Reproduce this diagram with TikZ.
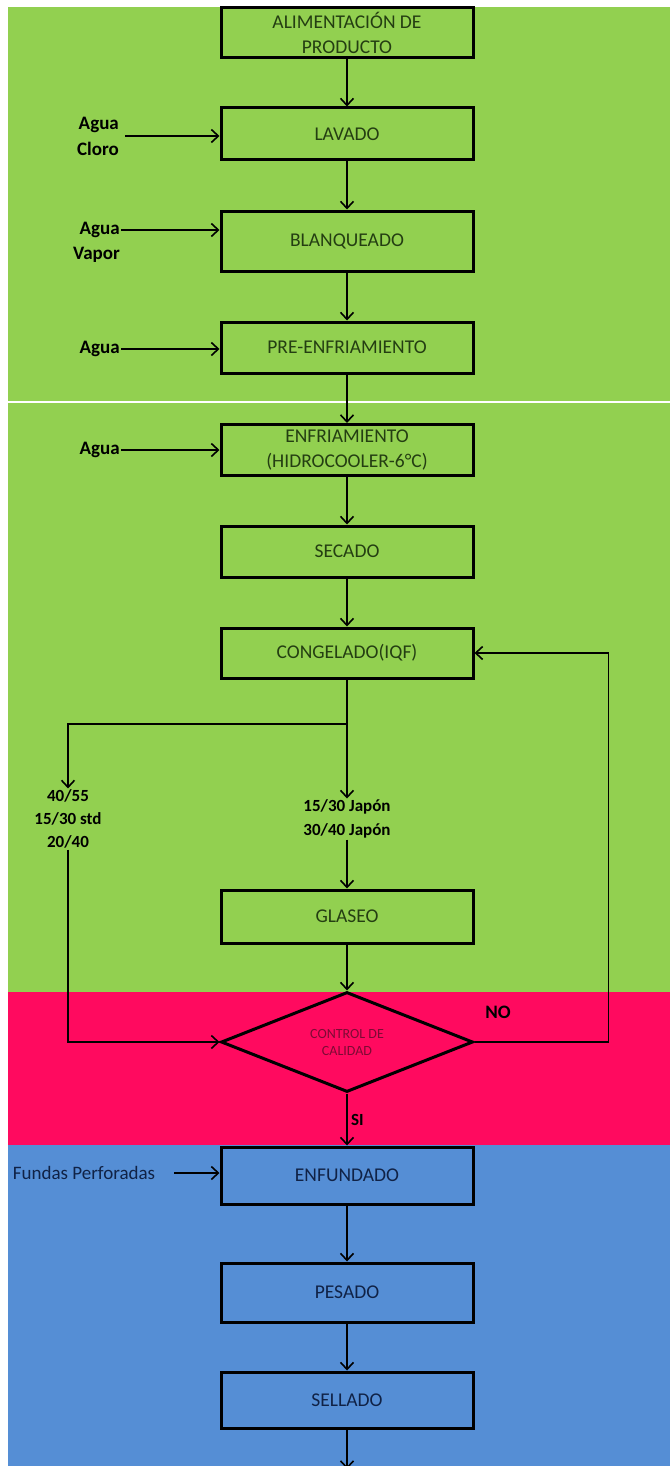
\documentclass[tikz,border=0pt]{standalone}
\usepackage{fontspec}
\setmainfont{Carlito}
\usetikzlibrary{arrows.meta,shapes.geometric}
\definecolor{verde}{RGB}{146,208,80}
\definecolor{rojo}{RGB}{255,10,95}
\definecolor{azul}{RGB}{85,142,213}
\definecolor{verdeosc}{RGB}{36,62,18}
\definecolor{azulosc}{RGB}{16,34,70}
\definecolor{rojoosc}{RGB}{125,10,52}
\begin{document}
\begin{tikzpicture}[x=1pt, y=-1pt,
    proceso/.style={draw, line width=3pt, minimum width=252pt, minimum height=52pt,
        inner sep=2pt, align=center, font=\fontsize{19.5}{25}\selectfont},
    flecha/.style={-{Straight Barb[length=7pt,width=13pt]}, line width=1.6pt},
    entrada/.style={font=\bfseries\fontsize{19}{27}\selectfont, inner sep=1pt, align=right},
    talla/.style={font=\bfseries\fontsize{17}{23}\selectfont, align=center, inner sep=1pt}]
    \useasboundingbox (0,0) rectangle (670,1466);
    \fill[white] (0,0) rectangle (670,1466);
    \fill[verde] (8,7) rectangle (670,992);
    \fill[rojo] (8,992) rectangle (670,1145);
    \fill[azul] (8,1145) rectangle (670,1466);
    \draw[white, line width=1.5pt] (8,402) -- (670,402);

    \node[proceso, text=verdeosc, minimum height=50pt] (alim) at (347,33) {ALIMENTACIÓN DE\\PRODUCTO};
    \node[proceso, text=verdeosc] (lavado) at (347,134) {LAVADO};
    \node[proceso, text=verdeosc, minimum height=60pt] (blanq) at (347,241) {BLANQUEADO};
    \node[proceso, text=verdeosc, minimum height=51pt] (preenf) at (347,347.5) {PRE-ENFRIAMIENTO};
    \node[proceso, text=verdeosc, minimum height=51pt] (enfr) at (347,450) {ENFRIAMIENTO\\(HIDROCOOLER-6°C)};
    \node[proceso, text=verdeosc, minimum height=51pt] (secado) at (347,551.5) {SECADO};
    \node[proceso, text=verdeosc, minimum height=50pt] (congelado) at (347,653) {CONGELADO(IQF)};
    \node[proceso, text=verdeosc, minimum height=53pt] (glaseo) at (347,916.5) {GLASEO};
    \node[draw, diamond, line width=3pt, minimum width=252pt, minimum height=100pt, inner sep=0pt,
        aspect=2.5, align=center, text=rojoosc, font=\fontsize{14}{17}\selectfont]
        (control) at (347,1042) {CONTROL DE\\CALIDAD};
    \node[proceso, text=azulosc, minimum height=57pt] (enfundado) at (347,1175.5) {ENFUNDADO};
    \node[proceso, text=azulosc, minimum height=59pt] (pesado) at (347,1292.5) {PESADO};
    \node[proceso, text=azulosc, minimum height=56pt] (sellado) at (347,1400) {SELLADO};
    \coordinate (fin) at (347,1469);

    \node[entrada, font=\bfseries\fontsize{19}{26}\selectfont] (agua1) at (98,136) {Agua\\Cloro};
    \node[entrada, anchor=east] (agua2) at (121,230) {Agua};
    \node[entrada, anchor=east] (vapor) at (121,255) {Vapor};
    \node[entrada, anchor=east] (agua3) at (121,349) {Agua};
    \node[entrada, anchor=east] (agua4) at (121,450) {Agua};
    \node[font=\fontsize{19}{23}\selectfont, text=azulosc, inner sep=1pt] (fundas) at (84,1173) {Fundas Perforadas};

    \coordinate (rama) at (347,724);
    \node[talla] (std) at (68,819) {40/55\\15/30 std\\20/40};
    \node[talla, font=\bfseries\fontsize{17}{24}\selectfont] (japon) at (347,819) {15/30 Japón\\30/40 Japón};
    \node[font=\bfseries\fontsize{19}{23}\selectfont] (no) at (498,1012) {NO};

    \draw[flecha] (alim) -- (lavado);
    \draw[flecha] (lavado) -- (blanq);
    \draw[flecha] (blanq) -- (preenf);
    \draw[flecha] (preenf) -- (enfr);
    \draw[flecha] (enfr) -- (secado);
    \draw[flecha] (secado) -- (congelado);
    \draw[flecha] (congelado) -- (japon);
    \draw[flecha] (rama) -| (std.north);
    \draw[flecha] (japon) -- (glaseo);
    \draw[flecha] (glaseo) -- (control);
    \draw[flecha] (std.south) |- (control.west);
    \draw[flecha] (control.east) -- ++(134,0) |- (congelado.east);
    \draw[flecha] (control) -- node[right, font=\bfseries\fontsize{17}{20}\selectfont] {SI} (enfundado);
    \draw[flecha] (enfundado) -- (pesado);
    \draw[flecha] (pesado) -- (sellado);
    \draw[flecha] (sellado) -- (fin);

    \draw[flecha] ([xshift=5pt]agua1.east) -- (agua1.east -| lavado.west);
    \draw[flecha] (agua2.east) -- (agua2.east -| blanq.west);
    \draw[flecha] (agua3.east) -- (agua3.east -| preenf.west);
    \draw[flecha] (agua4.east) -- (agua4.east -| enfr.west);
    \draw[flecha] ([xshift=18pt]fundas.east) -- (fundas.east -| enfundado.west);
\end{tikzpicture}
\end{document}
